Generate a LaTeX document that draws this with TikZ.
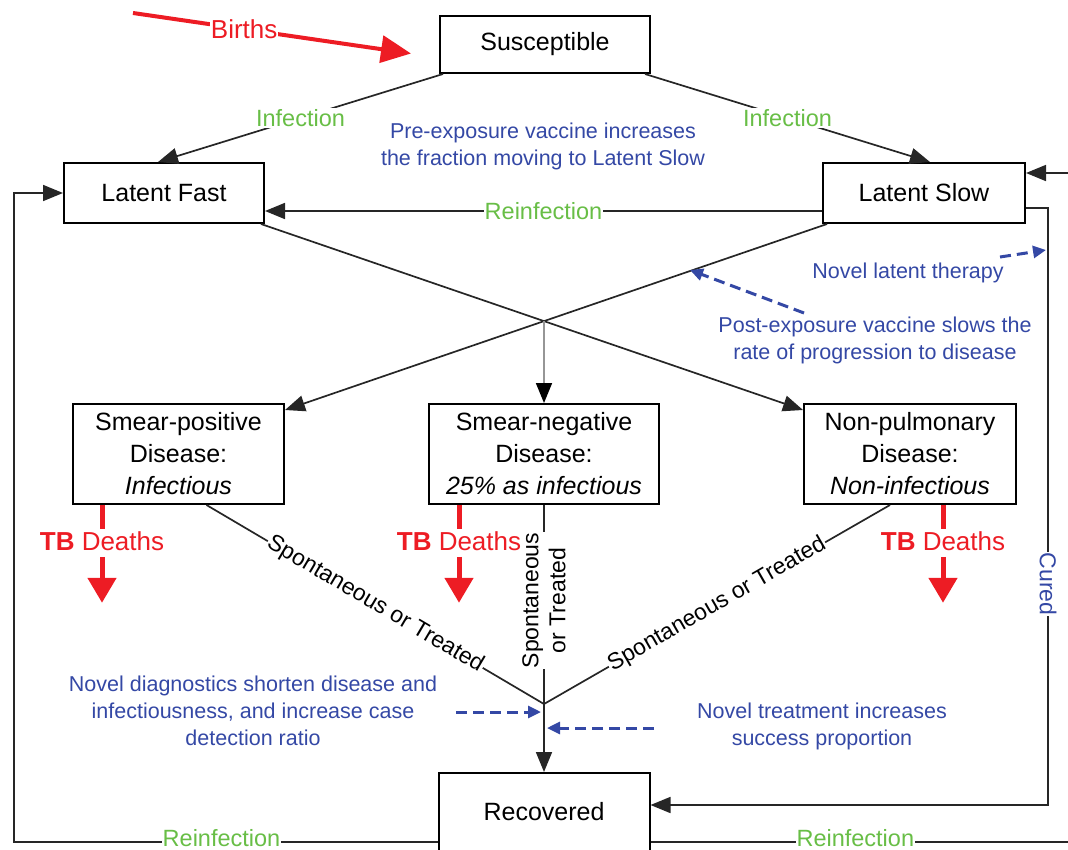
\documentclass[tikz,border=0pt]{standalone}
\usepackage{fontspec}
\setmainfont{Liberation Sans}
\usetikzlibrary{arrows.meta,calc}
\definecolor{grn}{RGB}{104,190,70}
\definecolor{blu}{RGB}{52,72,165}
\definecolor{rd}{RGB}{237,28,36}
\definecolor{gry}{RGB}{150,150,150}
\begin{document}
\begin{tikzpicture}[x=1pt,y=-1pt,
 box/.style={draw=black, line width=2pt, align=center, inner sep=0pt, font=\fontsize{25}{32}\selectfont},
 flow/.style={line width=1.7pt, draw=black!85},
 arr/.style={flow, -{Triangle[length=20pt,width=16pt]}},
 glab/.style={text=grn, fill=white, inner sep=1pt, font=\fontsize{23.5}{28}\selectfont},
 blab/.style={text=blu, align=center, font=\fontsize{21.5}{27}\selectfont},
 slab/.style={fill=white, inner sep=1pt, align=center, font=\fontsize{23}{27}\selectfont},
 rlab/.style={text=rd, inner sep=2pt, font=\fontsize{26}{30}\selectfont},
 redline/.style={draw=rd, line width=5pt},
 redarr/.style={draw=rd, line width=5pt, -{Triangle[length=25pt,width=28pt]}},
 bdash/.style={draw=blu, line width=3pt, dash pattern=on 11pt off 6pt, -{Triangle[length=13pt,width=12pt]}},
]
\useasboundingbox (0,0) rectangle (1068,849);
\clip (0,0) rectangle (1068,849);

% boxes
\node[box, minimum width=210pt, minimum height=57pt] (S) at (545,44.5) {Susceptible};
\node[box, minimum width=200pt, minimum height=60pt] (LF) at (164,193) {Latent Fast};
\node[box, minimum width=202pt, minimum height=60pt] (LS) at (924,193) {Latent Slow};
\node[box, minimum width=211pt, minimum height=100pt] (SP) at (178.5,454) {Smear-positive\\Disease:\\\textit{Infectious}};
\node[box, minimum width=230pt, minimum height=100pt] (SN) at (544,454) {Smear-negative\\Disease:\\\textit{25\% as infectious}};
\node[box, minimum width=212pt, minimum height=100pt] (NP) at (910,454) {Non-pulmonary\\Disease:\\\textit{Non-infectious}};
\node[box, minimum width=211pt, minimum height=78pt] (R) at (544,812) {Recovered};

% births
\coordinate (b0) at (133,13);
\draw[draw=rd, line width=4pt, -{Triangle[length=30pt,width=27pt]}] (b0) -- node[rlab, fill=white, inner sep=1pt, pos=0.4] {Births} ($(S.west)+(-28,9)$);

% infection
\draw[arr] ($(S.south west)+(4,0)$) -- node[glab] {Infection} ($(LF.north)+(-6,0)$);
\draw[arr] ($(S.south east)+(-6,0)$) -- node[glab] {Infection} ($(LS.north)+(6,0)$);

% pre-exposure text
\node[blab] (tpre) at (543,146) {Pre-exposure vaccine increases\\the fraction moving to Latent Slow};

% reinfection top
\draw[arr] ($(LS.west)+(0,18)$) -- node[glab] {Reinfection} ($(LF.east)+(0,18)$);

% progression cross
\coordinate (LFc) at ($(LF.south east)+(-4,0)$);
\coordinate (NPi) at ($(NP.west)+(0,-44)$);
\coordinate (LSc) at ($(LS.south west)+(5,0)$);
\coordinate (SPi) at ($(SP.east)+(0,-44)$);
\coordinate (J1) at (544,320.6);
\draw[arr] (LFc) -- (NPi);
\draw[arr] (LSc) -- (SPi);
\draw[flow, draw=gry, -{Triangle[length=20pt,width=16pt,color=black]}] (J1) -- (SN.north);

% post-exposure & latent therapy
\node[blab] (tpost) at (875,340) {Post-exposure vaccine slows the\\rate of progression to disease};
\coordinate (pe0) at (804,313);
\coordinate (pe1) at (690,270);
\draw[bdash] (pe0) -- (pe1);
\node[blab] (tlat) at (908,273) {Novel latent therapy};
\coordinate (lt0) at (1000,257);
\coordinate (lt1) at (1046,250);
\draw[bdash] (lt0) -- (lt1);

% cured
\draw[arr] ($(LS.east)+(0,15)$) -- (1048,208) -- node[text=blu, fill=white, inner sep=1pt, rotate=-90, pos=0.63, font=\fontsize{23}{27}\selectfont] {Cured} (1048,805) -- (R.east |- 0,805);

% TB deaths
\node[rlab] (d1) at (102,541) {\textbf{TB} Deaths};
\node[rlab] (d2) at (459,541) {\textbf{TB} Deaths};
\node[rlab] (d3) at (943,541) {\textbf{TB} Deaths};
\draw[redline] (d1 |- SP.south) -- (d1.north);
\draw[redline] (d2 |- SN.south) -- (d2.north);
\draw[redline] (d3 |- NP.south) -- (d3.north);
\draw[redarr] ($(d1.south)+(0,4)$) -- ++(0,46);
\draw[redarr] ($(d2.south)+(0,4)$) -- ++(0,46);
\draw[redarr] ($(d3.south)+(0,4)$) -- ++(0,46);

% recovery
\coordinate (J2) at (544,704);
\draw[flow] ($(SP.south)+(28,0)$) -- node[slab, sloped] {Spontaneous or Treated} (J2);
\draw[flow] ($(NP.south)+(-20,0)$) -- node[slab, sloped] {Spontaneous or Treated} (J2);
\draw[flow] (J2 |- SN.south) -- node[slab, rotate=90, pos=0.48] {Spontaneous\\or Treated} (J2);
\draw[arr] (J2) -- (R.north);

% novel diagnostics / treatment
\node[blab] (tdiag) at (253,711) {Novel diagnostics shorten disease and\\infectiousness, and increase case\\detection ratio};
\coordinate (dg0) at (456,712);
\coordinate (dg1) at (541,712);
\draw[bdash] (dg0) -- (dg1);
\node[blab] (ttreat) at (822,726) {Novel treatment increases\\success proportion};
\coordinate (tr0) at (654,728);
\coordinate (tr1) at (547,728);
\draw[bdash] (tr0) -- (tr1);

% reinfection loops
\draw[arr] ($(R.west)+(0,30)$) -- node[glab, pos=0.51, yshift=4pt] {Reinfection} (14,842) -- (14,193) -- (LF.west);
\draw[arr] ($(R.east)+(0,30)$) -- node[glab, pos=0.466, yshift=4pt] {Reinfection} (1090,842) -- (1090,173) -- ($(LS.east)+(0,-20)$);
\end{tikzpicture}
\end{document}
